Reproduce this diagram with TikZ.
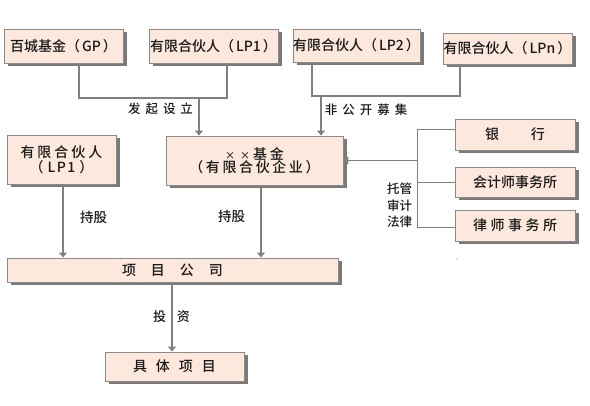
\documentclass[tikz,border=0pt]{standalone}
\usepackage{fontspec}
\setmainfont{Noto Sans CJK SC}[UprightFont={* Medium}]
\usetikzlibrary{arrows.meta,shadows}
\definecolor{boxfill}{HTML}{FCE8DC}
\definecolor{boxline}{HTML}{8A8A8A}
\definecolor{conn}{HTML}{808080}
\definecolor{txt}{HTML}{1A1A1A}
\newcommand{\smx}{{\fontsize{10}{10}\selectfont ×}}
\begin{document}
\begin{tikzpicture}[x=1pt,y=-1pt,
  box/.style={draw=boxline,line width=0.9pt,fill=boxfill,inner sep=0pt,
    font=\fontsize{14}{16}\selectfont,text=txt,align=center,
    drop shadow={shadow xshift=3.5pt,shadow yshift=-3.5pt,fill=black!65,opacity=0.8}},
  lbl/.style={font=\fontsize{12.5}{16.5}\selectfont,text=txt,align=center,inner sep=0pt},
  link/.style={draw=conn,line width=1.4pt},
  arr/.style={draw=conn,line width=1.4pt,-{Triangle[length=5pt,width=8pt]}},
  thinlink/.style={draw=conn,line width=0.8pt}]
\useasboundingbox (0,0) rectangle (590,406);
% top row
\node[box,minimum width=119pt,minimum height=34pt] (GP) at (63.5,46) {百城基金（\hspace{2pt}GP\hspace{2pt}）};
\node[box,minimum width=129pt,minimum height=34pt] (LPa) at (213.5,46) {有限合伙人（\hspace{2pt}LP1\hspace{2pt}）};
\node[box,minimum width=127pt,minimum height=33pt] (LPb) at (356.5,45.5) {有限合伙人（\hspace{2pt}LP2\hspace{2pt}）};
\node[box,minimum width=129pt,minimum height=31pt] (LPn) at (507.5,48.5) {有限合伙人（\hspace{2pt}LPn\hspace{2pt}）};
% middle row
\node[box,minimum width=109pt,minimum height=49pt] (LPl) at (61.5,159.5) {有\hspace{3pt}限\hspace{3pt}合\hspace{3pt}伙\hspace{3pt}人\\[-1pt]（\hspace{4pt}L\hspace{1.5pt}P\hspace{1.5pt}1\hspace{4pt}）};
\node[box,minimum width=177pt,minimum height=49pt] (Fund) at (254.5,160.5) {\smx\hspace{5pt}\smx\hspace{3pt}基\hspace{3pt}金\\[-3pt]（\hspace{2.6pt}有\hspace{2.6pt}限\hspace{2.6pt}合\hspace{2.6pt}伙\hspace{2.6pt}企\hspace{2.6pt}业\hspace{2.6pt}）};
\node[box,minimum width=120pt,minimum height=31pt] (Bank) at (515,134.5) {银\hspace{32pt}行};
\node[box,minimum width=120pt,minimum height=30pt] (Acct) at (515,182) {会计师事务所};
\node[box,minimum width=120pt,minimum height=31pt] (Law) at (515,225.5) {律\hspace{3.5pt}师\hspace{3.5pt}事\hspace{3.5pt}务\hspace{3.5pt}所};
% lower rows
\node[box,minimum width=331pt,minimum height=24pt] (Comp) at (172.5,270) {项\hspace{15pt}目\hspace{15pt}公\hspace{15pt}司};
\node[box,minimum width=139pt,minimum height=29pt] (Proj) at (174.5,366.5) {具\hspace{9pt}体\hspace{9pt}项\hspace{9pt}目};
% junctions
\coordinate (j1) at (199,98);
\coordinate (j2) at (321,96);
\coordinate (r1) at (417,129);
\coordinate (r3) at (417,227);
\coordinate (rm) at (417,160.5);
% connectors top
\draw[link] ([xshift=15.5pt]GP.south) |- (j1) -| ([xshift=13.5pt]LPa.south);
\draw[arr] (j1) -- (j1 |- Fund.north);
\draw[link] ([xshift=-44.5pt]LPb.south) |- (j2) -| ([xshift=-47.5pt]LPn.south);
\draw[arr] (j2) -- (j2 |- Fund.north);
% right bracket
\draw[thinlink] (Bank.west |- r1) -- (r1) -- (r3) -- (Law.west |- r3);
\draw[thinlink] (Acct.west) -- (Acct.west -| r1);
\draw[arr] (rm) -- (Fund.east);
% down arrows
\draw[arr] ([xshift=1.5pt]LPl.south) -- ([xshift=1.5pt]LPl.south |- Comp.north);
\draw[arr] ([xshift=6.5pt]Fund.south) -- ([xshift=6.5pt]Fund.south |- Comp.north);
\draw[arr] ([xshift=-0.5pt]Comp.south) -- ([xshift=-0.5pt]Comp.south |- Proj.north);
% labels
\node[lbl] (l1) at (160.5,109) {发\hspace{5pt}起\hspace{5pt}设\hspace{5pt}立};
\node[lbl] (l2) at (366,110) {非\hspace{5pt}公\hspace{5pt}开\hspace{5pt}募\hspace{5pt}集};
\node[lbl,font=\fontsize{13.5}{16}\selectfont] (l3) at (93.5,217) {持股};
\node[lbl,font=\fontsize{13.5}{16}\selectfont] (l4) at (231.5,216) {持股};
\node[lbl,font=\fontsize{13}{16}\selectfont] (l5) at (171.5,317) {投\hspace{11pt}资};
\node[lbl] (l6) at (399.5,205.5) {托管\\审计\\法律};
\fill[conn] (457,259) circle (0.6pt);
\end{tikzpicture}
\end{document}
